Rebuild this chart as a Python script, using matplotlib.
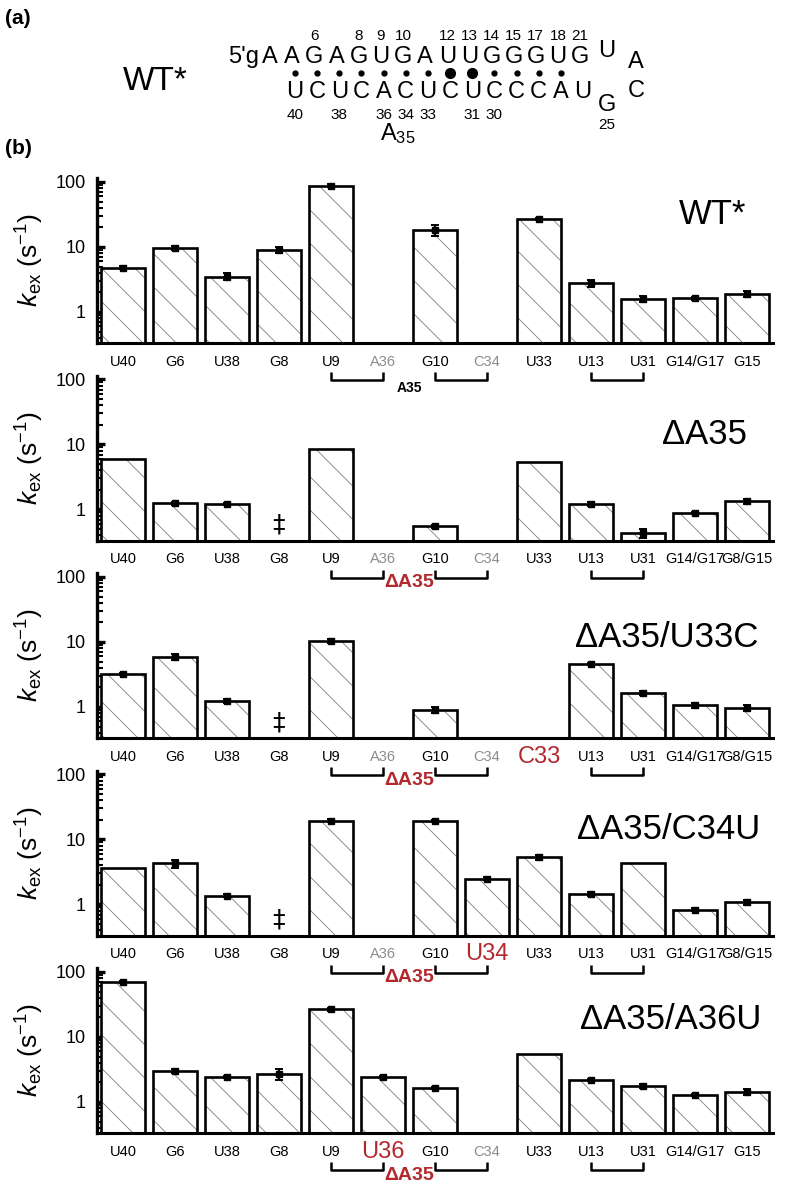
import matplotlib
matplotlib.use("Agg")
import matplotlib.pyplot as plt
import numpy as np
from matplotlib.ticker import FixedLocator, LogLocator, NullFormatter

plt.rcParams["font.family"] = ["Liberation Sans", "DejaVu Sans"]
plt.rcParams["mathtext.fontset"] = "custom"
plt.rcParams["mathtext.rm"] = "Liberation Sans"
plt.rcParams["mathtext.it"] = "Liberation Sans:italic"
plt.rcParams["mathtext.bf"] = "Liberation Sans:bold"
plt.rcParams["hatch.linewidth"] = 0.6

RED = "#b3282d"
GRAY = "#8c8c8c"

# ---------------- data (k_ex, s^-1) ----------------
panel_names = ["WT*", "ΔA35", "ΔA35/U33C", "ΔA35/C34U", "ΔA35/A36U"]

labels_wt = ["U40", "G6", "U38", "G8", "U9", "A36", "G10", "C34", "U33", "U13", "U31", "G14/G17", "G15"]
labels_d35 = ["U40", "G6", "U38", "G8", "U9", "A36", "G10", "C34", "U33", "U13", "U31", "G14/G17", "G8/G15"]
labels_u33c = ["U40", "G6", "U38", "G8", "U9", "A36", "G10", "C34", "C33", "U13", "U31", "G14/G17", "G8/G15"]
labels_c34u = ["U40", "G6", "U38", "G8", "U9", "A36", "G10", "U34", "U33", "U13", "U31", "G14/G17", "G8/G15"]
labels_a36u = ["U40", "G6", "U38", "G8", "U9", "U36", "G10", "C34", "U33", "U13", "U31", "G14/G17", "G15"]

nan = np.nan
kex_wt = [4.8, 9.6, 3.5, 9.0, 88, nan, 18, nan, 27, 2.8, 1.58, 1.62, 1.9]
err_wt = [0.3, 0.6, 0.45, 1.0, 4, 0, 3.5, 0, 1.0, 0.35, 0.15, 0.1, 0.2]

kex_d35 = [6.0, 1.25, 1.22, nan, 8.5, nan, 0.55, nan, 5.3, 1.22, 0.43, 0.88, 1.33]
err_d35 = [0, 0.07, 0.05, 0, 0, 0, 0.03, 0, 0, 0.1, 0.07, 0.04, 0.1]

kex_u33c = [3.2, 5.9, 1.24, nan, 10.4, nan, 0.91, nan, nan, 4.6, 1.64, 1.06, 0.97]
err_u33c = [0.1, 0.6, 0.1, 0, 0.8, 0, 0.1, 0, 0, 0.2, 0.12, 0.1, 0.1]

kex_c34u = [3.6, 4.3, 1.37, nan, 19.4, nan, 19.4, 2.5, 5.3, 1.46, 4.3, 0.83, 1.08]
err_c34u = [0, 0.6, 0.08, 0, 1.0, 0, 0.6, 0.15, 0.4, 0.12, 0, 0.05, 0.1]

kex_a36u = [70, 3.0, 2.4, 2.7, 26.7, 2.4, 1.64, nan, 5.5, 2.2, 1.76, 1.29, 1.43]
err_a36u = [3, 0.2, 0.08, 0.5, 1.5, 0.08, 0.06, 0, 0, 0.08, 0.12, 0.04, 0.15]

absent_labels = ["A36", "C34"]                 # grey: residue removed / unpaired
mutant_labels = [[], [], ["C33"], ["U34"], ["U36"]]
dagger_panels = [False, True, True, True, False]  # G8 not detected
dagger_level = 0.58
bracket_pairs = [(4, 5), (6, 7), (9, 10)]
bulge_label = ["A35", "ΔA35", "ΔA35", "ΔA35", "ΔA35"]

panels = [
    (labels_wt, kex_wt, err_wt),
    (labels_d35, kex_d35, err_d35),
    (labels_u33c, kex_u33c, err_u33c),
    (labels_c34u, kex_c34u, err_c34u),
    (labels_a36u, kex_a36u, err_a36u),
]
name_pos = [(0.911, 0.776), (0.898, 0.64), (0.843, 0.61), (0.846, 0.64), (0.848, 0.685)]

# ---------------- figure ----------------
W, H = 787, 1185
fig = plt.figure(figsize=(W / 100, H / 100), dpi=100, facecolor="white")


def fx(px):
    return px / W


def fy(py):
    return 1 - py / H


ax_left, ax_w, ax_h = 97, 676, 165
ax_bottoms = [343, 540.5, 738, 935.5, 1133]

for k, (labels, kex, err) in enumerate(panels):
    ax = fig.add_axes([fx(ax_left), fy(ax_bottoms[k]), ax_w / W, ax_h / H])
    ax.set_facecolor("none")
    x = np.arange(len(labels))
    v = np.asarray(kex, dtype=float)
    e = np.asarray(err, dtype=float)
    m = np.isfinite(v)
    base = 0.1

    ax.set_yscale("log")
    ax.bar(x[m], v[m] - base, bottom=base, width=0.86, color="white",
           edgecolor="0.5", hatch="\\", linewidth=0, zorder=2)
    ax.bar(x[m], v[m] - base, bottom=base, width=0.86, fill=False,
           edgecolor="black", linewidth=1.9, zorder=3)
    me = m & (e > 0)
    ax.errorbar(x[me], v[me], yerr=e[me], fmt="s", ms=4.5, color="black",
                elinewidth=1.6, capsize=3, capthick=1.4, zorder=5)

    if dagger_panels[k]:
        ax.text(labels.index("G8"), dagger_level, "‡", ha="center", va="center",
                fontsize=18, family=["DejaVu Sans"], zorder=6)

    ax.set_xlim(-0.5, len(labels) - 0.5)
    ax.set_ylim(0.333, 115)
    ax.yaxis.set_major_locator(FixedLocator([1, 10, 100]))
    ax.set_yticklabels(["1", "10", "100"])
    ax.yaxis.set_minor_locator(LogLocator(base=10, subs=np.arange(2, 10)))
    ax.yaxis.set_minor_formatter(NullFormatter())
    ax.tick_params(axis="y", which="major", direction="in", length=6, width=2.4,
                   labelsize=13, pad=8)
    ax.tick_params(axis="y", which="minor", direction="in", length=4, width=1.5)

    ax.set_xticks(x)
    ax.set_xticklabels(labels)
    ax.tick_params(axis="x", length=0, pad=13.5)
    for lab in ax.get_xticklabels():
        lab.set_va("center")
        txt = lab.get_text()
        if txt in mutant_labels[k]:
            lab.set_color(RED)
            lab.set_fontsize(17)
        else:
            lab.set_fontsize(10.5)
            if txt in absent_labels:
                lab.set_color(GRAY)

    for side in ("top", "right"):
        ax.spines[side].set_visible(False)
    ax.spines["left"].set_linewidth(2.4)
    ax.spines["bottom"].set_linewidth(2.2)

    # brackets linking the residues flanking the bulge
    tr = ax.get_xaxis_transform()
    y_leg, y_line = -29 / ax_h, -37 / ax_h
    for i, j in bracket_pairs:
        ax.plot([i, i, j, j], [y_leg, y_line, y_line, y_leg], transform=tr,
                color="black", lw=1.8, clip_on=False, solid_capstyle="butt", zorder=10)
    if k == 0:
        ax.text(5.5, y_line - 0.005, bulge_label[k], transform=tr, ha="center", va="top",
                fontsize=10, fontweight="bold", zorder=10)
    else:
        ax.text(5.5, y_line + 0.02, bulge_label[k], transform=tr, ha="center", va="top",
                fontsize=14, fontweight="bold", color=RED, zorder=10)

    ax.text(name_pos[k][0], name_pos[k][1], panel_names[k], transform=ax.transAxes,
            ha="center", va="center", fontsize=25)
    ax.text(-0.099, 0.5, r"$k_{\mathrm{ex}}$ (s$^{-1}$)", transform=ax.transAxes,
            rotation=90, ha="center", va="center", fontsize=19)

# ---------------- panel (a): secondary structure ----------------
fig.text(fx(18), fy(18), "(a)", fontsize=15, fontweight="bold", ha="center", va="center")
fig.text(fx(18), fy(148), "(b)", fontsize=15, fontweight="bold", ha="center", va="center")
fig.text(fx(155), fy(81), "WT*", fontsize=24, ha="center", va="center")

top_strand = list("AAGAGUGAUUGGGUG")
top_numbers = {2: "6", 4: "8", 5: "9", 6: "10", 8: "12", 9: "13", 10: "14",
               11: "15", 12: "17", 13: "18", 14: "21"}
bottom_strand = list("UCUCACUCUCCCAU")
bottom_numbers = {0: "40", 2: "38", 4: "36", 5: "34", 6: "33", 8: "31", 9: "30"}
big_dots = [7, 8]
n_pairs = 13

dx = 22.15
x_top0, x_bot0 = 270, 295
seq_fs = 17
num_fs = 11
y_num_top, y_top, y_dot, y_bot, y_num_bot = 36, 57, 73, 92, 115
fig.text(fx(x_top0 - 11), fy(y_top), "5'g", fontsize=seq_fs, ha="right", va="center")
for i, ch in enumerate(top_strand):
    fig.text(fx(x_top0 + i * dx), fy(y_top), ch, fontsize=seq_fs, ha="center", va="center")
for i, num in top_numbers.items():
    fig.text(fx(x_top0 + i * dx), fy(y_num_top), num, fontsize=num_fs, ha="center", va="center")
for j, ch in enumerate(bottom_strand):
    fig.text(fx(x_bot0 + j * dx), fy(y_bot), ch, fontsize=seq_fs, ha="center", va="center")
for j, num in bottom_numbers.items():
    fig.text(fx(x_bot0 + j * dx), fy(y_num_bot), num, fontsize=num_fs, ha="center", va="center")
for j in range(n_pairs):
    size = 7 if j in big_dots else 3.5
    fig.lines.append(plt.Line2D([fx(x_bot0 + j * dx)], [fy(y_dot)], marker="o", ms=size,
                                color="black", transform=fig.transFigure))

fig.text(fx(607), fy(51), "U", fontsize=seq_fs, ha="center", va="center")
fig.text(fx(636), fy(62), "A", fontsize=seq_fs, ha="center", va="center")
fig.text(fx(636), fy(91), "C", fontsize=seq_fs, ha="center", va="center")
fig.text(fx(607), fy(105), "G", fontsize=seq_fs, ha="center", va="center")
fig.text(fx(607), fy(125), "25", fontsize=num_fs, ha="center", va="center")
fig.text(fx(398), fy(134), r"A$_{35}$", fontsize=seq_fs, ha="center", va="center")

fig.savefig("out.png", dpi=100, facecolor="white")
